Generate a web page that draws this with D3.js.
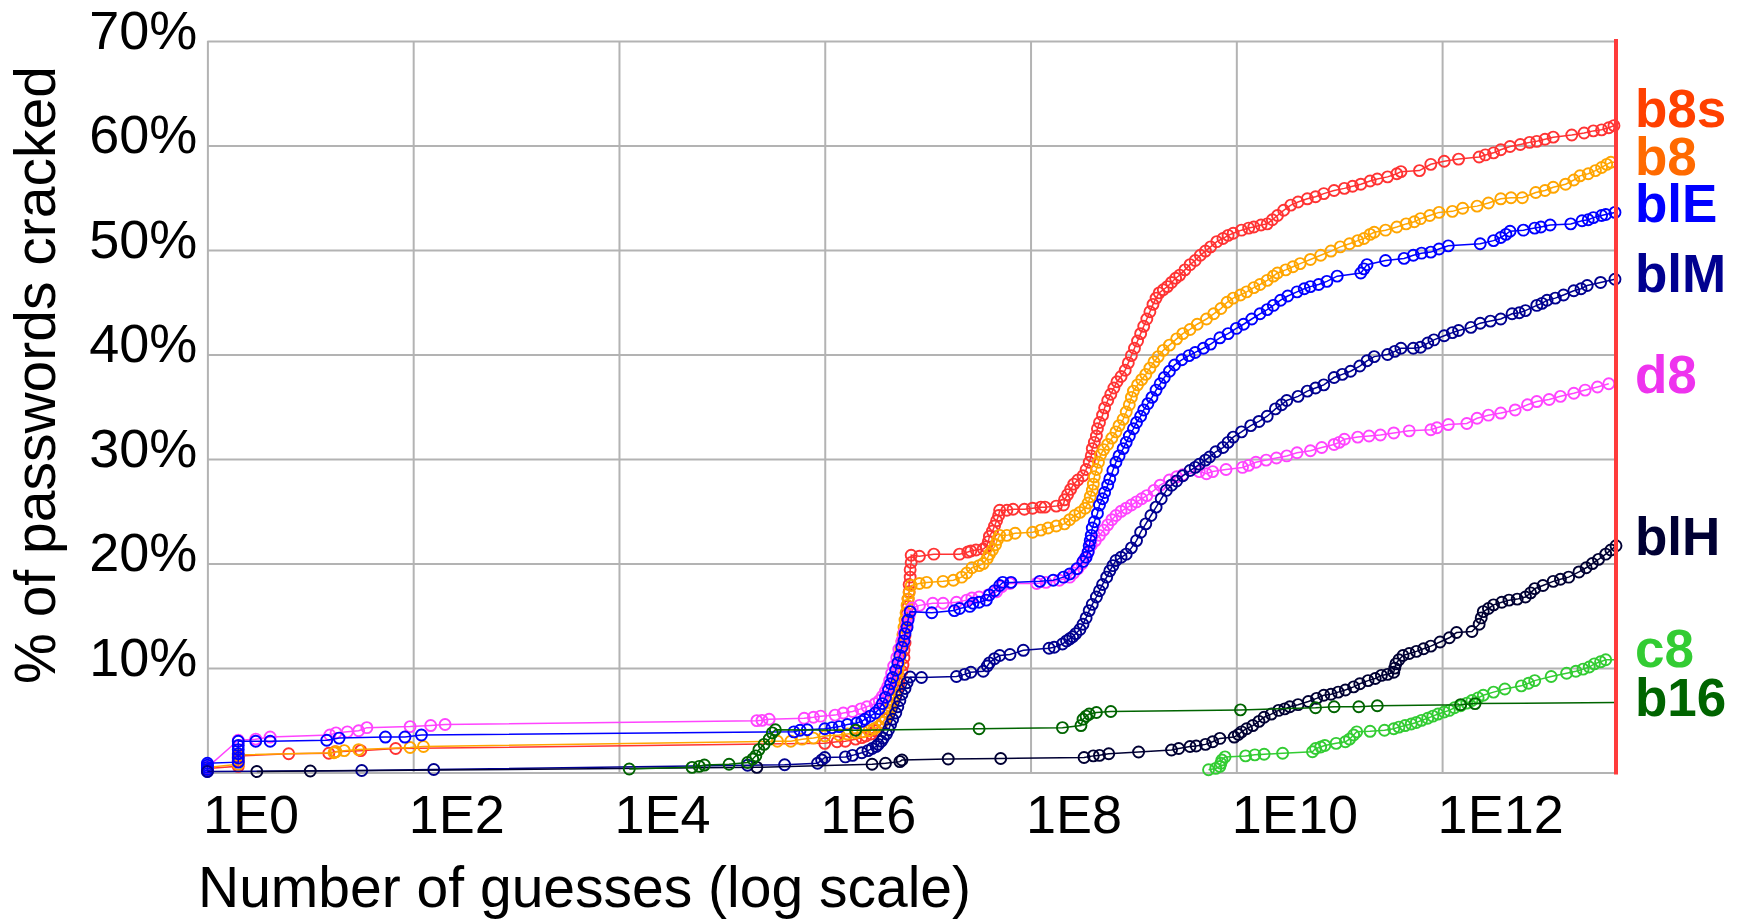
<!DOCTYPE html>
<html>
<head>
<meta charset="utf-8">
<script src="https://cdn.jsdelivr.net/npm/d3@7"></script>
<style>
  html, body { margin: 0; padding: 0; background: #fff; }
  svg { display: block; }
</style>
</head>
<body>
<script>
// every point is [log10(number of guesses), % of passwords cracked]
const b8s = [[0,0.2],[0,0.4],[0.3,0.6],[0.3,1.1],[0.3,1.6],[0.79,1.8],[1.18,1.85],[1.24,2.0],[1.49,2.1],[1.83,2.3],
  [6.0,2.8],[6.12,2.95],[6.2,3.0],[6.3,3.2],[6.36,3.35],[6.4,3.5],[6.45,3.7],[6.49,4.0],[6.53,4.4],[6.56,4.8],[6.59,5.1],[6.62,5.7],[6.64,6.3],[6.66,6.9],[6.69,7.3],[6.7,7.9],[6.72,8.5],[6.73,9.1],[6.75,9.7],[6.76,10.3],[6.77,11],[6.77,11.7],[6.78,12.4],[6.78,13.1],[6.79,13.8],[6.8,14.5],[6.8,15.2],[6.81,15.9],[6.81,16.6],[6.82,17.3],[6.82,18],[6.83,18.7],[6.83,19.4],[6.84,20.1],[6.84,20.8],
  [6.92,20.7],[7.06,20.9],[7.31,20.9],[7.39,21.1],[7.42,21.2],[7.47,21.3],[7.54,21.4],[7.57,21.6],[7.59,22.1],[7.6,22.6],[7.63,23.1],[7.65,23.6],[7.67,24.1],[7.69,24.6],[7.7,25.1],[7.77,25.1],[7.83,25.2],[7.94,25.2],[8.02,25.3],[8.1,25.4],[8.14,25.4],[8.25,25.5],[8.32,25.6],[8.33,26.1],[8.36,26.6],[8.39,27.1],[8.42,27.6],[8.46,28.0],[8.51,28.4],[8.54,29],[8.57,29.7],[8.59,30.3],[8.6,31],[8.62,31.6],[8.64,32.2],[8.65,32.9],[8.67,33.5],[8.7,34.2],[8.72,34.9],[8.75,35.6],[8.78,36.2],[8.81,36.8],[8.84,37.4],[8.88,37.9],[8.92,38.5],[8.95,39.2],[8.98,39.9],[9.01,40.6],[9.04,41.3],[9.07,42],[9.1,42.7],[9.13,43.4],[9.16,44.1],[9.19,44.8],[9.22,45.4],[9.25,45.9],[9.29,46.2],[9.33,46.5],[9.37,46.9],[9.41,47.3],[9.45,47.6],[9.5,48.1],[9.55,48.6],[9.6,49],[9.65,49.5],[9.7,49.9],[9.75,50.3],[9.81,50.8],[9.87,51.1],[9.92,51.4],[9.97,51.6],[10.05,51.9],[10.12,52.1],[10.17,52.2],[10.24,52.4],[10.3,52.5],[10.35,52.9],[10.4,53.3],[10.46,53.8],[10.53,54.3],[10.6,54.6],[10.69,54.9],[10.77,55.1],[10.85,55.4],[10.95,55.7],[11.05,55.9],[11.13,56.1],[11.21,56.3],[11.3,56.6],[11.37,56.8],[11.47,57.0],[11.56,57.3],[11.6,57.5],[11.78,57.6],[11.89,58.2],[12.02,58.5],[12.16,58.7],[12.36,58.9],[12.42,59.1],[12.5,59.3],[12.57,59.6],[12.66,59.9],[12.76,60.1],[12.85,60.3],[12.92,60.4],[13.0,60.6],[13.08,60.8],[13.26,61.0],[13.38,61.2],[13.47,61.4],[13.55,61.5],[13.62,61.7],[13.67,61.9]];

const b8 = [[0,0.3],[0,0.5],[0.3,0.8],[0.3,1.3],[0.3,1.7],[1.23,1.9],[1.25,2.0],[1.33,2.1],[1.47,2.2],[1.97,2.4],[2.1,2.5],
  [5.54,3.0],[5.67,3.0],[5.78,3.2],[5.89,3.3],[6.0,3.5],[6.14,3.6],[6.22,3.7],[6.3,3.8],[6.37,3.9],[6.43,4.0],[6.48,4.2],[6.52,4.4],[6.56,4.8],[6.59,5.2],[6.62,5.7],[6.64,6.3],[6.66,6.9],[6.68,7.6],[6.69,8.3],[6.7,9],[6.71,9.7],[6.72,10.4],[6.73,11.1],[6.74,11.8],[6.75,12.5],[6.76,13.2],[6.77,13.9],[6.78,14.6],[6.79,15.3],[6.8,16],[6.81,16.6],[6.82,17.2],[6.84,17.9],
  [6.92,18.1],[6.99,18.2],[7.15,18.3],[7.25,18.4],[7.33,18.7],[7.38,19.1],[7.43,19.6],[7.5,19.8],[7.54,20.0],[7.58,20.5],[7.6,20.9],[7.63,21.3],[7.66,21.8],[7.68,22.3],[7.7,22.7],[7.77,22.7],[7.85,22.9],[8.02,23.0],[8.1,23.2],[8.17,23.4],[8.25,23.6],[8.33,23.8],[8.38,24.2],[8.43,24.6],[8.48,24.9],[8.53,25.3],[8.56,25.8],[8.58,26.4],[8.6,27],[8.61,27.6],[8.62,28.3],[8.64,29],[8.66,29.7],[8.68,30.4],[8.71,30.9],[8.75,31.4],[8.79,32],[8.83,32.6],[8.86,33.2],[8.9,33.8],[8.93,34.5],[8.96,35.2],[8.98,35.9],[9.0,36.5],[9.04,37.1],[9.08,37.6],[9.12,38.1],[9.16,38.7],[9.2,39.3],[9.24,39.8],[9.29,40.4],[9.35,40.9],[9.42,41.5],[9.48,42],[9.55,42.4],[9.62,42.9],[9.71,43.4],[9.78,43.9],[9.85,44.4],[9.91,45],[9.97,45.4],[10.04,45.7],[10.1,46],[10.17,46.4],[10.23,46.7],[10.3,47.1],[10.36,47.5],[10.4,47.8],[10.48,48.1],[10.55,48.4],[10.62,48.7],[10.72,49.1],[10.82,49.5],[10.92,49.9],[11.01,50.3],[11.1,50.6],[11.18,50.9],[11.24,51.1],[11.3,51.5],[11.34,51.7],[11.45,51.9],[11.56,52.2],[11.65,52.5],[11.73,52.7],[11.79,53.0],[11.88,53.3],[11.97,53.6],[12.1,53.7],[12.2,54.0],[12.34,54.2],[12.45,54.5],[12.57,54.9],[12.67,55.0],[12.78,55.0],[12.91,55.5],[13.0,55.7],[13.08,56.0],[13.2,56.3],[13.28,56.7],[13.34,57.1],[13.42,57.3],[13.49,57.6],[13.55,57.9],[13.6,58.2],[13.64,58.4]];

const blE = [[0,0.1],[0,0.3],[0,0.5],[0,0.7],[0,0.9],[0.3,1.0],[0.3,1.4],[0.3,1.8],[0.3,2.2],[0.3,2.6],[0.3,3.0],[0.47,3.0],[0.61,3.0],[1.16,3.1],[1.28,3.3],[1.73,3.4],[1.92,3.4],[2.08,3.6],
  [5.7,3.9],[5.76,4.05],[5.83,4.1],[6.0,4.2],[6.07,4.3],[6.14,4.4],[6.22,4.6],[6.31,4.75],[6.36,4.9],[6.39,5.1],[6.44,5.4],[6.49,5.7],[6.53,6.1],[6.56,6.6],[6.59,7.2],[6.62,7.9],[6.64,8.5],[6.66,9.1],[6.69,9.8],[6.71,10.5],[6.73,11.2],[6.75,12.0],[6.77,12.6],[6.78,13.3],[6.8,13.9],[6.81,14.6],[6.83,15.4],
  [7.04,15.3],[7.26,15.5],[7.31,15.7],[7.41,15.9],[7.44,16.2],[7.5,16.3],[7.57,16.5],[7.6,17],[7.65,17.4],[7.7,17.9],[7.73,18.2],[7.81,18.2],[8.09,18.3],[8.22,18.4],[8.32,18.7],[8.38,19.0],[8.45,19.5],[8.51,20.2],[8.54,20.6],[8.56,21.1],[8.57,21.7],[8.58,22.2],[8.59,22.7],[8.6,23.4],[8.62,24.0],[8.65,24.8],[8.67,25.6],[8.7,26.2],[8.72,26.8],[8.75,27.5],[8.77,28.1],[8.8,28.9],[8.83,29.7],[8.86,30.3],[8.9,31],[8.93,31.6],[8.96,32.2],[9.0,32.9],[9.03,33.5],[9.07,34.1],[9.1,34.7],[9.14,35.3],[9.18,35.9],[9.22,36.6],[9.26,37.2],[9.3,37.8],[9.35,38.4],[9.4,39],[9.47,39.5],[9.54,39.9],[9.6,40.2],[9.68,40.6],[9.75,41],[9.84,41.6],[9.92,42],[10.0,42.5],[10.07,42.9],[10.15,43.4],[10.23,43.9],[10.3,44.3],[10.36,44.7],[10.43,45.2],[10.5,45.6],[10.59,46.0],[10.66,46.3],[10.72,46.5],[10.8,46.7],[10.88,47.0],[10.98,47.5],[11.21,47.8],[11.24,48.2],[11.27,48.6],[11.45,49.0],[11.63,49.2],[11.72,49.5],[11.8,49.7],[11.89,49.8],[11.97,50.1],[12.06,50.4],[12.37,50.6],[12.5,50.9],[12.57,51.2],[12.62,51.5],[12.66,51.8],[12.79,51.9],[12.9,52.1],[12.96,52.2],[13.05,52.4],[13.25,52.5],[13.36,52.8],[13.42,52.9],[13.47,53.1],[13.55,53.3],[13.59,53.4],[13.68,53.6]];

const blM = [[0,0.1],[1.5,0.2],[2.2,0.3],[5.25,0.7],[5.61,0.75],[5.93,0.9],[5.97,1.2],[6.0,1.45],[6.2,1.5],[6.27,1.65],[6.36,1.9],[6.42,2.1],[6.46,2.3],[6.5,2.5],[6.52,2.7],[6.55,3.0],[6.57,3.3],[6.6,3.7],[6.62,4.1],[6.64,4.6],[6.66,5.1],[6.69,5.7],[6.71,6.3],[6.73,6.9],[6.75,7.5],[6.78,8.05],[6.8,8.6],[6.83,9.15],
  [6.94,9.1],[7.28,9.2],[7.36,9.4],[7.42,9.6],[7.54,9.7],[7.58,10.2],[7.6,10.5],[7.65,10.9],[7.7,11.2],[7.8,11.3],[7.93,11.7],[8.18,11.9],[8.23,12.0],[8.31,12.3],[8.35,12.6],[8.38,12.8],[8.41,13.0],[8.44,13.3],[8.48,13.7],[8.51,14.2],[8.54,14.8],[8.57,15.5],[8.6,16.1],[8.64,16.8],[8.67,17.4],[8.7,18.0],[8.74,18.7],[8.77,19.3],[8.8,19.8],[8.83,20.3],[8.88,20.6],[8.93,20.9],[8.98,21.5],[9.03,22.2],[9.07,23],[9.12,23.8],[9.17,24.6],[9.22,25.4],[9.27,26.2],[9.32,27.0],[9.37,27.5],[9.42,27.9],[9.48,28.4],[9.55,28.9],[9.6,29.2],[9.64,29.5],[9.7,29.9],[9.74,30.2],[9.8,30.7],[9.87,31.1],[9.92,31.6],[9.97,32.1],[10.05,32.6],[10.14,33.2],[10.22,33.6],[10.3,34.1],[10.38,34.8],[10.44,35.2],[10.49,35.6],[10.6,36],[10.69,36.5],[10.77,36.8],[10.85,37.1],[10.95,37.8],[11.03,38.1],[11.11,38.4],[11.2,38.9],[11.27,39.4],[11.34,39.8],[11.47,40.0],[11.54,40.3],[11.6,40.6],[11.72,40.6],[11.79,40.7],[11.86,41.1],[11.92,41.4],[12.02,41.8],[12.1,42.1],[12.16,42.3],[12.28,42.6],[12.37,43.0],[12.47,43.2],[12.57,43.4],[12.68,43.9],[12.75,44.0],[12.81,44.2],[12.92,44.7],[12.97,44.9],[13.02,45.2],[13.1,45.4],[13.18,45.7],[13.28,46.1],[13.35,46.3],[13.41,46.6],[13.54,46.9],[13.68,47.2]];

const d8 = [[0,0.5],[0.3,3.1],[0.47,3.2],[0.61,3.4],[1.19,3.6],[1.25,3.8],[1.36,3.9],[1.47,4.0],[1.55,4.3],[1.97,4.4],[2.17,4.5],[2.31,4.6],
  [5.34,4.97],[5.39,5.0],[5.46,5.1],[5.8,5.2],[5.89,5.3],[5.96,5.4],[6.1,5.5],[6.18,5.7],[6.27,5.85],[6.35,6.1],[6.41,6.3],[6.49,6.6],[6.53,6.9],[6.56,7.3],[6.59,7.8],[6.61,8.2],[6.63,8.8],[6.65,9.5],[6.67,10.2],[6.7,11],[6.72,11.8],[6.75,12.6],[6.77,13.4],[6.8,14.2],[6.82,15],[6.85,15.75],
  [6.92,16.0],[7.05,16.2],[7.15,16.2],[7.28,16.3],[7.38,16.5],[7.43,16.7],[7.5,16.8],[7.59,17.0],[7.67,17.3],[7.72,17.8],[7.8,18.1],[8.06,18.1],[8.15,18.2],[8.28,18.4],[8.38,18.7],[8.42,19.1],[8.46,19.5],[8.5,20.0],[8.53,20.5],[8.56,21.1],[8.59,21.75],[8.63,22.2],[8.67,22.7],[8.71,23.2],[8.75,23.7],[8.79,24.2],[8.83,24.6],[8.88,25.0],[8.93,25.3],[8.98,25.6],[9.03,25.9],[9.08,26.2],[9.13,26.5],[9.2,27.0],[9.26,27.5],[9.35,28.0],[9.42,28.3],[9.48,28.5],[9.64,28.8],[9.71,28.6],[9.77,28.8],[9.9,29.0],[10.06,29.2],[10.12,29.4],[10.19,29.7],[10.29,29.9],[10.39,30.1],[10.49,30.3],[10.59,30.6],[10.72,30.8],[10.83,31.1],[10.95,31.4],[11.0,31.6],[11.05,31.9],[11.18,32.1],[11.29,32.2],[11.4,32.3],[11.53,32.5],[11.68,32.7],[11.89,32.8],[11.95,33.0],[12.06,33.3],[12.24,33.4],[12.34,33.9],[12.45,34.2],[12.57,34.4],[12.71,34.7],[12.83,35.2],[12.92,35.5],[13.04,35.7],[13.15,36.0],[13.28,36.3],[13.39,36.6],[13.51,36.9],[13.62,37.2]];

const blH = [[0.48,0.1],[1.0,0.15],[5.34,0.5],[6.46,0.8],[6.59,0.9],[6.73,1.05],[6.75,1.2],[7.2,1.3],[7.71,1.35],[8.52,1.45],[8.61,1.6],[8.67,1.65],[8.76,1.8],[9.05,1.97],[9.37,2.16],[9.44,2.3],[9.55,2.5],[9.61,2.55],[9.7,2.7],[9.77,2.95],[9.84,3.27],[9.98,3.4],[10.02,3.65],[10.05,3.9],[10.1,4.2],[10.16,4.5],[10.22,4.9],[10.27,5.3],[10.34,5.6],[10.41,5.95],[10.47,6.1],[10.52,6.3],[10.6,6.5],[10.7,6.8],[10.78,7.1],[10.85,7.4],[10.92,7.5],[10.99,7.7],[11.06,7.9],[11.14,8.2],[11.2,8.5],[11.28,8.8],[11.35,9.0],[11.41,9.3],[11.47,9.4],[11.53,9.6],[11.54,10.0],[11.55,10.4],[11.58,10.8],[11.62,11.2],[11.68,11.4],[11.75,11.6],[11.82,11.85],[11.89,12.1],[11.98,12.5],[12.07,12.9],[12.14,13.4],[12.29,13.5],[12.36,14.2],[12.38,14.8],[12.4,15.4],[12.45,15.7],[12.5,16.05],[12.58,16.3],[12.65,16.5],[12.73,16.6],[12.81,16.8],[12.86,17.2],[12.9,17.6],[12.98,17.9],[13.08,18.3],[13.15,18.5],[13.23,18.7],[13.33,19.2],[13.4,19.6],[13.46,20.0],[13.52,20.4],[13.59,20.9],[13.64,21.3],[13.69,21.7]];

const c8 = [[9.73,0.27],[9.8,0.4],[9.84,0.58],[9.85,0.9],[9.86,1.2],[9.89,1.5],[10.09,1.6],[10.18,1.7],[10.27,1.75],[10.45,1.85],[10.74,2.0],[10.77,2.3],[10.82,2.45],[10.86,2.6],[10.97,2.8],[11.06,2.95],[11.1,3.2],[11.14,3.6],[11.17,3.9],[11.3,3.95],[11.44,4.05],[11.53,4.2],[11.58,4.35],[11.64,4.5],[11.7,4.65],[11.75,4.8],[11.8,5.0],[11.86,5.2],[11.91,5.4],[11.96,5.6],[12.02,5.8],[12.07,5.95],[12.12,6.2],[12.18,6.4],[12.24,6.65],[12.29,6.9],[12.35,7.15],[12.4,7.4],[12.5,7.7],[12.61,8.0],[12.77,8.3],[12.84,8.55],[12.9,8.8],[13.06,9.2],[13.21,9.5],[13.3,9.7],[13.37,9.9],[13.43,10.1],[13.48,10.4],[13.54,10.6],[13.59,10.8]];

const b16 = [[4.1,0.35],[4.71,0.5],[4.78,0.6],[4.83,0.72],[5.07,0.8],[5.25,0.97],[5.3,1.3],[5.33,1.6],[5.36,2.2],[5.41,2.7],[5.46,3.2],[5.49,3.8],[5.52,4.1],[6.3,4.05],[7.5,4.2],[8.31,4.3],[8.49,4.5],[8.51,5.1],[8.54,5.4],[8.57,5.6],[8.64,5.75],[8.78,5.85],[10.04,6.0],[10.77,6.2],[10.95,6.3],[11.19,6.3],[11.37,6.4],[12.18,6.5],[12.32,6.6]];

// drawing order: first is at the bottom
const seriesNames = ["b8s", "b8", "d8", "blE", "blM", "blH", "c8", "b16"];
const seriesData = [b8s, b8, d8, blE, blM, blH, c8, b16];
const lineColors = ["#ff3333", "#ffa500", "#ff44ff", "#0000ff", "#000090", "#000033", "#33cc33", "#006400"];
const labelColors = ["#ff4000", "#ff6a00", "#ee33ee", "#0000ff", "#000090", "#000033", "#33cc33", "#006400"];
// label position on the right, in % units
const labelPct = [63.6, 59.0, 38.1, 54.5, 47.8, 22.6, 11.9, 7.2];

// lines running on (without a marker) up to the cut-off
const tailNames = ["b8", "c8", "b16"];
const tailPct = [58.4, 10.8, 6.7];

const cutoffLog = 13.69; // log10 of the guess cut-off (red line)
const xTickValues = [1e0, 1e2, 1e4, 1e6, 1e8, 1e10, 1e12];
const xTickLabels = ["1E0", "1E2", "1E4", "1E6", "1E8", "1E10", "1E12"];
const yTickValues = [0, 10, 20, 30, 40, 50, 60, 70];

const width = 1748, height = 920;
const plotLeft = 207.4, plotRight = 1616, plotTop = 41, plotBottom = 772.6;
const font = "'Liberation Sans', Arial, Helvetica, sans-serif";

const svg = d3.select("body").append("svg")
    .attr("width", width)
    .attr("height", height)
    .style("background", "#fff");

const x = d3.scaleLog()
    .domain([1, Math.pow(10, cutoffLog)])
    .range([plotLeft, plotRight]);

const y = d3.scaleLinear()
    .domain([0, 70])
    .range([plotBottom, plotTop]);

// y grid + labels
const yAxis = svg.append("g")
    .attr("transform", `translate(${plotLeft},0)`)
    .call(d3.axisLeft(y)
        .tickValues(yTickValues)
        .tickSize(-(plotRight - plotLeft))
        .tickPadding(10)
        .tickFormat(d => d === 0 ? "" : d + "%"));
yAxis.select(".domain").remove();
yAxis.selectAll(".tick line").attr("stroke", "#b3b3b3").attr("stroke-width", 2);
yAxis.selectAll(".tick text")
    .attr("dy", null)
    .attr("y", 7)
    .attr("fill", "#000")
    .style("font-family", font)
    .style("font-size", "54px");

// x grid + labels
const xAxis = svg.append("g")
    .attr("transform", `translate(0,${plotBottom})`)
    .call(d3.axisBottom(x)
        .tickValues(xTickValues)
        .tickSize(-(plotBottom - plotTop))
        .tickFormat((d, i) => xTickLabels[i]));
xAxis.select(".domain").remove();
xAxis.selectAll(".tick line").attr("stroke", "#b3b3b3").attr("stroke-width", 2);
xAxis.selectAll(".tick text")
    .attr("dy", null)
    .attr("y", 60)
    .attr("x", -5)
    .attr("text-anchor", "start")
    .attr("fill", "#000")
    .style("font-family", font)
    .style("font-size", "54px");

// axis titles
svg.append("text")
    .attr("x", 198)
    .attr("y", 907)
    .style("font-family", font)
    .style("font-size", "57px")
    .style("font-weight", 300)
    .text("Number of guesses (log scale)");

svg.append("text")
    .attr("transform", "translate(55,375) rotate(-90)")
    .attr("text-anchor", "middle")
    .style("font-family", font)
    .style("font-size", "57px")
    .style("font-weight", 300)
    .text("% of passwords cracked");

const px = d => x(Math.pow(10, d[0]));
const py = d => y(d[1]);
const line = d3.line().x(px).y(py);

const plot = svg.append("g");

seriesNames.forEach((name, i) => {
    const pts = seriesData[i];
    const t = tailNames.indexOf(name);
    const linePts = t >= 0 ? pts.concat([[cutoffLog, tailPct[t]]]) : pts;
    const g = plot.append("g").attr("class", "series-" + name);
    g.append("path")
        .datum(linePts)
        .attr("d", line)
        .attr("fill", "none")
        .attr("stroke", lineColors[i])
        .attr("stroke-width", 1.5);
    g.selectAll("circle")
        .data(pts)
        .join("circle")
        .attr("cx", px)
        .attr("cy", py)
        .attr("r", 5.5)
        .attr("fill", "none")
        .attr("stroke", lineColors[i])
        .attr("stroke-width", 1.9);
});

// guess cut-off
svg.append("line")
    .attr("x1", x(Math.pow(10, cutoffLog)))
    .attr("x2", x(Math.pow(10, cutoffLog)))
    .attr("y1", plotTop - 2)
    .attr("y2", plotBottom + 2)
    .attr("stroke", "#ff3b3b")
    .attr("stroke-width", 4);

// series labels
svg.append("g").selectAll("text")
    .data(seriesNames)
    .join("text")
    .attr("x", 1635)
    .attr("y", (d, i) => y(labelPct[i]))
    .attr("dy", "0.36em")
    .attr("fill", (d, i) => labelColors[i])
    .style("font-family", font)
    .style("font-size", "53px")
    .style("font-weight", "bold")
    .text(d => d);
</script>
</body>
</html>
